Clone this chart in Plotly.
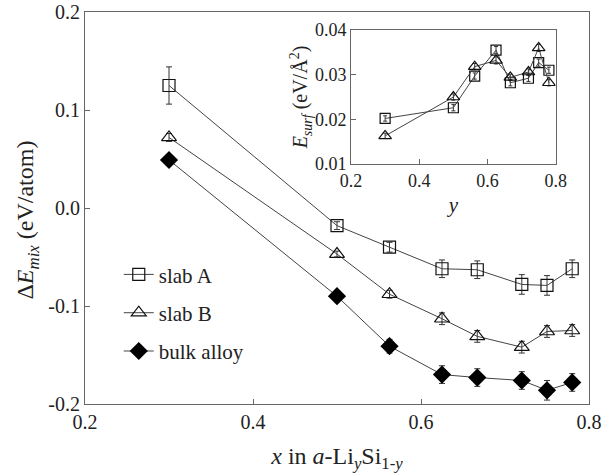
import plotly.graph_objects as go

# ---------------- data ----------------
x_vals = [0.3, 0.5, 0.5625, 0.625, 0.667, 0.72, 0.75, 0.78]

slabA = [0.125, -0.018, -0.040, -0.062, -0.063, -0.078, -0.079, -0.062]
slabA_err = [0.019, 0.004, 0.005, 0.009, 0.009, 0.010, 0.010, 0.009]

slabB = [0.072, -0.047, -0.088, -0.113, -0.131, -0.142, -0.126, -0.125]
slabB_err = [0.004, 0.003, 0.004, 0.006, 0.006, 0.006, 0.006, 0.006]

bulk = [0.049, -0.090, -0.141, -0.170, -0.173, -0.176, -0.186, -0.178]
bulk_err = [0.003, 0.003, 0.007, 0.009, 0.009, 0.009, 0.010, 0.009]

surfA = [0.0202, 0.0226, 0.0297, 0.0355, 0.0282, 0.0292, 0.0327, 0.0310]
surfB = [0.0163, 0.0250, 0.0318, 0.0332, 0.0294, 0.0306, 0.0360, 0.0282]
surf_err = [0.0006, 0.0007, 0.0007, 0.0008, 0.0007, 0.0007, 0.0008, 0.0007]

main_xticks = [0.2, 0.4, 0.6, 0.8]
main_yticks = [-0.2, -0.1, 0.0, 0.1, 0.2]
inset_xticks = [0.2, 0.4, 0.6, 0.8]
inset_yticks = [0.01, 0.02, 0.03, 0.04]

FONT = "Liberation Serif, Times New Roman, serif"
LINE = "#444444"
AX = "#666666"
TXT = "#222222"

fig = go.Figure()

def err(arr, w=3):
    return dict(type="data", array=arr, visible=True, color="#333333",
                thickness=1, width=w)

fig.add_trace(go.Scatter(
    x=x_vals, y=slabA, name="slab A", mode="lines+markers",
    line=dict(color=LINE, width=1),
    marker=dict(symbol="square-open", size=12, color="#111111", line=dict(width=1.2)),
    error_y=err(slabA_err), legendgroup="a"))
fig.add_trace(go.Scatter(
    x=x_vals, y=slabB, name="slab B", mode="lines+markers",
    line=dict(color=LINE, width=1),
    marker=dict(symbol="triangle-up-open", size=13, color="#111111", line=dict(width=1.2)),
    error_y=err(slabB_err), legendgroup="b"))
fig.add_trace(go.Scatter(
    x=x_vals, y=bulk, name="bulk alloy", mode="lines+markers",
    line=dict(color=LINE, width=1),
    marker=dict(symbol="diamond", size=14, color="#000000"),
    error_y=err(bulk_err), legendgroup="c"))

# inset
fig.add_trace(go.Scatter(
    x=x_vals, y=surfA, mode="lines+markers", showlegend=False,
    xaxis="x2", yaxis="y2",
    line=dict(color=LINE, width=1),
    marker=dict(symbol="square-open", size=10, color="#111111", line=dict(width=1.2)),
    error_y=err(surf_err, 2)))
fig.add_trace(go.Scatter(
    x=x_vals, y=surfB, mode="lines+markers", showlegend=False,
    xaxis="x2", yaxis="y2",
    line=dict(color=LINE, width=1),
    marker=dict(symbol="triangle-up-open", size=11, color="#111111", line=dict(width=1.2)),
    error_y=err(surf_err, 2)))

axis_common = dict(showline=True, mirror=True, linecolor=AX, linewidth=1,
                   ticks="inside", ticklen=5, tickcolor=AX, showgrid=False,
                   zeroline=False, automargin=False, ticklabeloverflow="allow")

def f(size):
    return dict(family=FONT, size=size, color=TXT)

fig.update_layout(
    width=604, height=475,
    margin=dict(l=85, r=15, t=12, b=71, autoexpand=False),
    paper_bgcolor="white", plot_bgcolor="white",
    font=f(20),
    xaxis=dict(domain=[0, 1], range=[0.2, 0.8], tickvals=main_xticks,
               ticktext=[f"{v:.1f}" for v in main_xticks],
               tickfont=f(20),
               title=dict(text="<i>x</i> in <i>a</i>-Li<sub><i>y</i></sub>Si<sub>1-<i>y</i></sub>",
                          font=f(24), standoff=15),
               **axis_common),
    yaxis=dict(domain=[0, 1], range=[-0.2, 0.2], tickvals=main_yticks,
               ticktext=["-0.2", "-0.1", "0.0", "0.1", "0.2"],
               tickfont=f(20),
               **axis_common),
    xaxis2=dict(domain=[0.5278, 0.934], range=[0.2, 0.8], tickvals=inset_xticks,
                ticktext=[f"{v:.1f}" for v in inset_xticks],
                tickfont=f(18), anchor="y2",
                title=dict(text="<i>y</i>", font=f(21), standoff=7),
                **axis_common),
    yaxis2=dict(domain=[0.6122, 0.954], range=[0.01, 0.04], tickvals=inset_yticks,
                ticktext=[f"{v:.2f}" for v in inset_yticks],
                tickfont=f(18), anchor="x2",
                title=dict(text="<i>E</i><sub><i>surf</i></sub> (eV/Å<sup>2</sup>)",
                           font=f(20), standoff=1),
                **axis_common),
    legend=dict(x=0.067, y=0.382, xanchor="left", yanchor="top",
                bgcolor="rgba(0,0,0,0)", font=f(21),
                tracegroupgap=8, itemwidth=30),
    annotations=[dict(
        text="Δ<i>E</i><sub><i>mix</i></sub> (eV/atom)",
        xref="paper", yref="paper", x=-0.115, y=0.468,
        xanchor="center", yanchor="middle", textangle=-90,
        showarrow=False, font=f(24))],
)

fig.write_html("out.html", config={"displayModeBar": False},
               post_script="document.body.style.margin='0';document.body.style.overflow='hidden';")
